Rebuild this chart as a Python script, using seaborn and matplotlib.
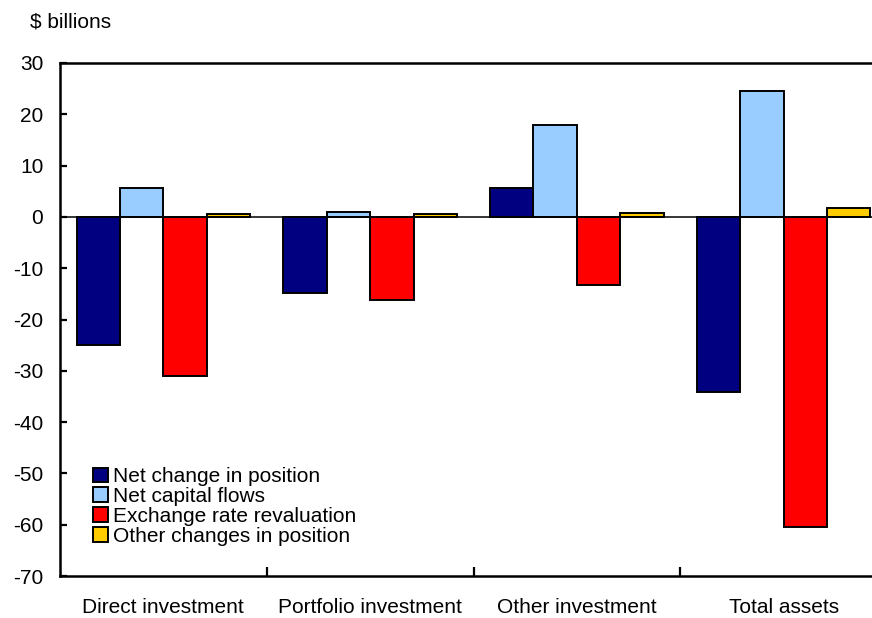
import matplotlib
matplotlib.use("Agg")
import matplotlib.pyplot as plt
import seaborn as sns
import pandas as pd
from matplotlib.patches import Patch

categories = ["Direct investment", "Portfolio investment", "Other investment", "Total assets"]
series_names = ["Net change in position", "Net capital flows",
                "Exchange rate revaluation", "Other changes in position"]
net_change = [-25.0, -14.9, 5.6, -34.2]
net_flows = [5.6, 1.0, 18.0, 24.5]
exch_reval = [-31.0, -16.2, -13.3, -60.4]
other_chg = [0.5, 0.5, 0.8, 1.8]
y_ticks = [30, 20, 10, 0, -10, -20, -30, -40, -50, -60, -70]
colors = ["#000080", "#99CCFF", "#FF0000", "#FFCC00"]

rows = []
for vals, name in zip([net_change, net_flows, exch_reval, other_chg], series_names):
    for c, v in zip(categories, vals):
        rows.append({"cat": c, "series": name, "val": v})
df = pd.DataFrame(rows)

sns.set_style("ticks")
plt.rcParams["font.family"] = ["Liberation Sans", "DejaVu Sans"]
plt.rcParams["font.size"] = 15
for k in ["text.color", "axes.labelcolor", "xtick.color", "ytick.color", "axes.edgecolor"]:
    plt.rcParams[k] = "black"

W, H = 872, 618
fig = plt.figure(figsize=(W / 100, H / 100), dpi=100)
ax = fig.add_axes([60 / W, (H - 576) / H, 827 / W, 513 / H])

sns.barplot(data=df, x="cat", y="val", hue="series", order=categories,
            hue_order=series_names, palette=colors, width=0.84, gap=0,
            edgecolor="black", linewidth=1.4, saturation=1, ax=ax, legend=False)

ax.set_ylim(-70, 30)
ax.set_xlim(-0.5, 3.5)
ax.set_yticks(y_ticks)
ax.set_yticklabels([str(t) for t in y_ticks])
ax.axhline(0, color="black", lw=1.1, zorder=1)
ax.set_xlabel("")
ax.set_ylabel("")

for s in ["left", "top", "bottom"]:
    ax.spines[s].set_linewidth(1.8)
    ax.spines[s].set_color("black")
ax.spines["right"].set_visible(False)

ax.tick_params(axis="y", direction="in", length=5, width=1.6, pad=12, labelsize=15,
               colors="black")
ax.set_xticks(range(len(categories)))
ax.set_xticklabels(categories)
ax.tick_params(axis="x", which="major", length=0, pad=16, labelsize=15, colors="black")
ax.set_xticks([0.5, 1.5, 2.5], minor=True)
ax.tick_params(axis="x", which="minor", direction="in", length=6.5, width=1.6,
               colors="black")

handles = [Patch(facecolor=c, edgecolor="black", linewidth=1.4) for c in colors]
ax.legend(handles, series_names, loc="upper left", bbox_to_anchor=(0.04, 0.212),
          frameon=False, borderpad=0, borderaxespad=0, handlelength=0.7,
          handleheight=0.7, handletextpad=0.25, labelspacing=0.04, fontsize=15,
          labelcolor="black")

fig.text(30 / W, 1 - 22 / H, "$ billions", ha="left", va="center", fontsize=15,
         color="black")

fig.savefig("out.png", dpi=100)
